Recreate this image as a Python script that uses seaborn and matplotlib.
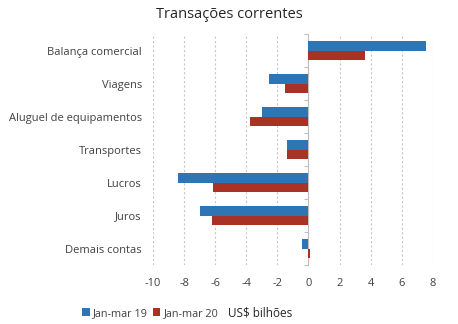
import matplotlib
matplotlib.use("Agg")
import matplotlib.pyplot as plt
import seaborn as sns
import pandas as pd
from matplotlib.patches import Patch

categories = ["Balança comercial", "Viagens", "Aluguel de equipamentos", "Transportes",
              "Lucros", "Juros", "Demais contas"]
series_names = ["Jan-mar 19", "Jan-mar 20"]
jan_mar_19 = [7.57, -2.54, -2.99, -1.37, -8.40, -6.99, -0.41]
jan_mar_20 = [3.64, -1.50, -3.76, -1.37, -6.15, -6.21, 0.09]
x_ticks = [-10, -8, -6, -4, -2, 0, 2, 4, 6, 8]
colors = ["#2E75B6", "#A93226"]

df = pd.DataFrame({
    "cat": categories * 2,
    "serie": [series_names[0]] * len(categories) + [series_names[1]] * len(categories),
    "val": jan_mar_19 + jan_mar_20,
})

sns.set_style("white")
plt.rcParams["font.family"] = ["Open Sans", "DejaVu Sans"]

fig = plt.figure(figsize=(4.58, 3.24), dpi=100)
ax = fig.add_axes([0.334, 0.182, 0.611, 0.713])

sns.barplot(data=df, y="cat", x="val", hue="serie", order=categories,
            hue_order=series_names, palette=colors, orient="h", width=0.55,
            saturation=1, ax=ax, legend=False, linewidth=0, edgecolor="none")

ax.set_xlim(-10, 8)
ax.set_ylim(len(categories) - 0.5, -0.5)
ax.set_xticks(x_ticks)
ax.set_xticklabels([str(t) for t in x_ticks], fontsize=8, color="#404040")
ax.tick_params(axis="x", length=0, pad=9)
ax.tick_params(axis="y", length=0, pad=8, labelsize=8, labelcolor="#404040")
ax.set_xlabel("")
ax.set_ylabel("")
for s in ax.spines.values():
    s.set_visible(False)
ax.grid(axis="x", color="#C8C8C8", linestyle=(0, (2, 2)), linewidth=0.8)
ax.set_axisbelow(True)

# category axis at zero with boundary ticks
sec = ax.secondary_yaxis((0 - (-10)) / 18.0)
sec.set_yticks([i - 0.5 for i in range(len(categories) + 1)])
sec.set_yticklabels([])
sec.tick_params(axis="y", which="both", direction="out", length=3,
                color="#BFBFBF", width=0.8, left=True, right=False)
for name, sp in sec.spines.items():
    sp.set_color("#BFBFBF")
    sp.set_linewidth(0.8)
sec.set_zorder(0.5)

fig.text(0.5, 0.955, "Transações correntes", ha="center", va="center",
         fontsize=10.5, color="#262626")

handles = [Patch(facecolor=c, edgecolor="none") for c in colors]
fig.legend(handles, series_names, loc="center left", bbox_to_anchor=(0.179, 0.033),
           ncol=2, frameon=False, fontsize=7.8, handlelength=0.7, handleheight=0.7,
           handletextpad=0.3, columnspacing=0.45, labelcolor="#404040",
           borderpad=0, borderaxespad=0)
fig.text(0.497, 0.033, "US$ bilhões", ha="left", va="center", fontsize=8.5,
         color="#262626")

fig.savefig("out.png", dpi=100)
